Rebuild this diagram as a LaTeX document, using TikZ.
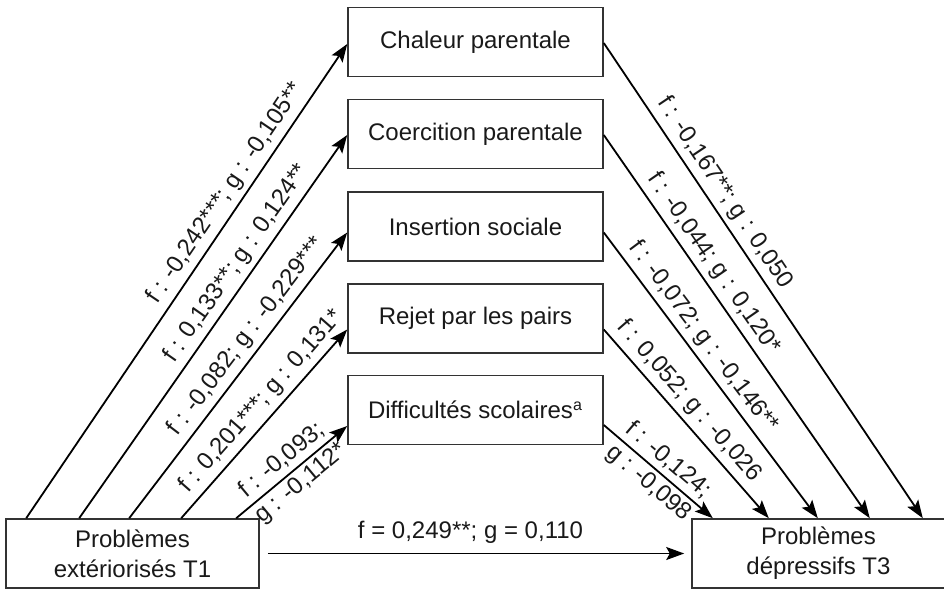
\documentclass[tikz,border=0pt]{standalone}
\usepackage{fontspec}
\setmainfont{Liberation Sans}
\usetikzlibrary{arrows.meta}
\tikzset{every node/.style={
font=\fontsize{12}{15}\selectfont,
text=black!90},
mediateur/.style={ 
draw=black!80,
line width=0.8pt,
minimum width=127.5pt,
minimum height=34.5pt,
inner sep=0pt},
facteur/.style={ 
mediateur,
minimum width=126.5pt,
align=center},
lien/.style={ 
draw,
line width=0.9pt,
-{Stealth[length=9pt, width=6.5pt, inset=1.8pt]}},
coef/.style={ 
sloped,
above,
inner sep=2.5pt}}

\begin{document}
\begin{tikzpicture}[x=0.5pt, y=-0.5pt]
\useasboundingbox (0,0) rectangle (944,591);
\node[facteur] (t1) at (132.5,553.5) {Problèmes\\extériorisés T1};
\node[facteur] (t3) at (818.5,553.5) {Problèmes\\dépressifs T3};
\node[mediateur] (chal) at (475.5,42) {Chaleur parentale};
\node[mediateur] (coer) at (475.5,134) {Coercition parentale};
\node[mediateur] (ins) at (475.5,226.5) {Insertion sociale};
\node[mediateur] (rej) at (475.5,318.5) {Rejet par les pairs};
\node[mediateur] (diff) at (475.5,410) {Difficultés scolaires\textsuperscript{a}};
% T1 -> mediateurs
\draw ([xshift=10.5pt]t1.north west) edge[lien] node[coef, pos=.665] {f : -0,242***; g : -0,105**} ([yshift=-1pt]chal.west);
\draw ([xshift=37pt]t1.north west) edge[lien] node[coef, pos=.64] {f : 0,133**; g : 0,124**} ([yshift=-0.5pt]coer.west);
\draw ([xshift=62pt]t1.north west) edge[lien] node[coef, pos=.6] {f : -0,082; g : -0,229***} ([yshift=-3pt]ins.west);
\draw ([xshift=88pt]t1.north west) edge[lien] node[coef, pos=.56] {f : 0,201***; g : 0,131*} ([yshift=-5.5pt]rej.west);
\draw ([xshift=115.5pt]t1.north west) edge[lien] node[sloped, align=center, inner sep=0pt] {f : -0,093;\\g : -0,112*} ([yshift=-8pt]diff.west);
% mediateurs -> T3
\draw ([yshift=-0.5pt]chal.east) edge[lien] node[coef, pos=.335] {f : -0,167**; g : 0,050} ([xshift=-11.5pt]t3.north east);
\draw ([yshift=-0.5pt]coer.east) edge[lien] node[coef, pos=.36] {f : -0,044; g : 0,120*} ([xshift=-38pt]t3.north east);
\draw ([yshift=-3pt]ins.east) edge[lien] node[coef, pos=.4] {f : -0,072; g : -0,146**} ([xshift=-64pt]t3.north east);
\draw ([yshift=-5.5pt]rej.east) edge[lien] node[coef, pos=.44] {f : 0,052; g : -0,026} ([xshift=-88.5pt]t3.north east);
\draw ([yshift=-7.5pt]diff.east) edge[lien] node[sloped, align=center, inner sep=0pt] {f : -0,124;\\g : -0,098} ([xshift=-116.5pt]t3.north east);
% effet direct
\draw (t1) edge[lien, shorten <=4pt, shorten >=3.5pt] node[above=1pt, xshift=-2.5pt] {f = 0,249**; g = 0,110} (t3);
\end{tikzpicture}
\end{document}
